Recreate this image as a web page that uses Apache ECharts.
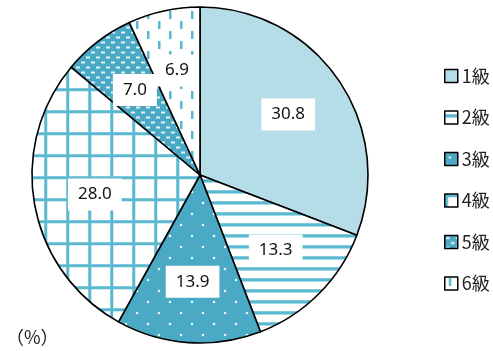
<!DOCTYPE html>
<html>
<head>
<meta charset="utf-8">
<script src="https://cdn.jsdelivr.net/npm/echarts@6/dist/echarts.min.js"></script>
<style>
html,body{margin:0;padding:0;background:#fff;}
#chart{width:493px;height:351px;}
</style>
</head>
<body>
<div id="chart"></div>
<script>
const categories = ['1級', '2級', '3級', '4級', '5級', '6級'];
const values = [30.8, 13.3, 13.9, 28.0, 7.0, 6.9];
const unitLabel = '（%）';

const LINE = '#5ab8d0';
const DARK = '#4aa9c4';
const LIGHT = '#b5dde8';

function makeTile(w, h, draw) {
  const c = document.createElement('canvas');
  c.width = w; c.height = h;
  const ctx = c.getContext('2d');
  draw(ctx, w, h);
  return { image: c, repeat: 'repeat' };
}

const fills = [
  LIGHT,
  makeTile(11, 11, (ctx, w, h) => {
    ctx.fillStyle = '#fff'; ctx.fillRect(0, 0, w, h);
    ctx.fillStyle = '#a8dbe8'; ctx.fillRect(0, 3, w, 4);
    ctx.fillStyle = LINE; ctx.fillRect(0, 3.5, w, 2.5);
  }),
  makeTile(22, 22, (ctx, w, h) => {
    ctx.fillStyle = DARK; ctx.fillRect(0, 0, w, h);
    ctx.fillStyle = 'rgba(255,255,255,0.9)';
    ctx.beginPath(); ctx.arc(5, 5, 1.3, 0, Math.PI * 2); ctx.fill();
    ctx.beginPath(); ctx.arc(16, 16, 1.3, 0, Math.PI * 2); ctx.fill();
  }),
  makeTile(22, 22, (ctx, w, h) => {
    ctx.fillStyle = '#fff'; ctx.fillRect(0, 0, w, h);
    ctx.fillStyle = '#a8dbe8';
    ctx.fillRect(0, 0, w, 3.5); ctx.fillRect(0, 0, 3.5, h);
    ctx.fillStyle = LINE;
    ctx.fillRect(0, 0.5, w, 2.5); ctx.fillRect(0.5, 0, 2.5, h);
  }),
  makeTile(10, 10, (ctx, w, h) => {
    ctx.fillStyle = DARK; ctx.fillRect(0, 0, w, h);
    ctx.fillStyle = 'rgba(255,255,255,0.85)';
    ctx.fillRect(1, 1.5, 4, 2);
    ctx.fillRect(6, 6.5, 4, 2);
  }),
  makeTile(22, 20, (ctx, w, h) => {
    ctx.fillStyle = '#fff'; ctx.fillRect(0, 0, w, h);
    ctx.fillStyle = LINE;
    ctx.fillRect(4, 1, 2.5, 8);
    ctx.fillRect(15, 11, 2.5, 8);
  })
];

const CX = 200, CY = 175, R = 168;
const LABEL_K = 1.23;

const chart = echarts.init(document.getElementById('chart'), null, { renderer: 'canvas' });
chart.setOption({
  animation: false,
  backgroundColor: '#fff',
  legend: {
    orient: 'vertical',
    left: 439,
    top: 62,
    itemWidth: 13,
    itemHeight: 13,
    itemGap: 23.5,
    icon: 'rect',
    data: categories,
    itemStyle: { borderColor: '#000', borderWidth: 1.5 },
    textStyle: { fontFamily: '"Noto Sans CJK JP"', fontSize: 18, color: '#222', padding: [0, 0, 0, -1] }
  },
  graphic: [{
    type: 'text',
    left: 6,
    top: 328,
    style: { text: unitLabel, font: '18px "Noto Sans CJK JP"', fill: '#222' }
  }],
  series: [{
    type: 'pie',
    center: [CX, CY],
    radius: R,
    startAngle: 90,
    clockwise: true,
    avoidLabelOverlap: false,
    emphasis: { disabled: true },
    itemStyle: { borderColor: '#000', borderWidth: 1.6 },
    label: {
      show: true,
      position: 'inside',
      formatter: (p) => p.value.toFixed(1),
      fontFamily: '"Noto Sans", sans-serif',
      fontSize: 17,
      color: '#111',
      backgroundColor: '#fff',
      padding: [8, 10, 7, 10]
    },
    labelLine: { show: false },
    labelLayout: function (params) {
      const r = params.labelRect;
      const lx = r.x + r.width / 2, ly = r.y + r.height / 2;
      return { dx: (lx - CX) * (LABEL_K - 1), dy: (ly - CY) * (LABEL_K - 1) };
    },
    data: categories.map((c, i) => ({ name: c, value: values[i], itemStyle: { color: fills[i] } }))
  }]
});
</script>
</body>
</html>
